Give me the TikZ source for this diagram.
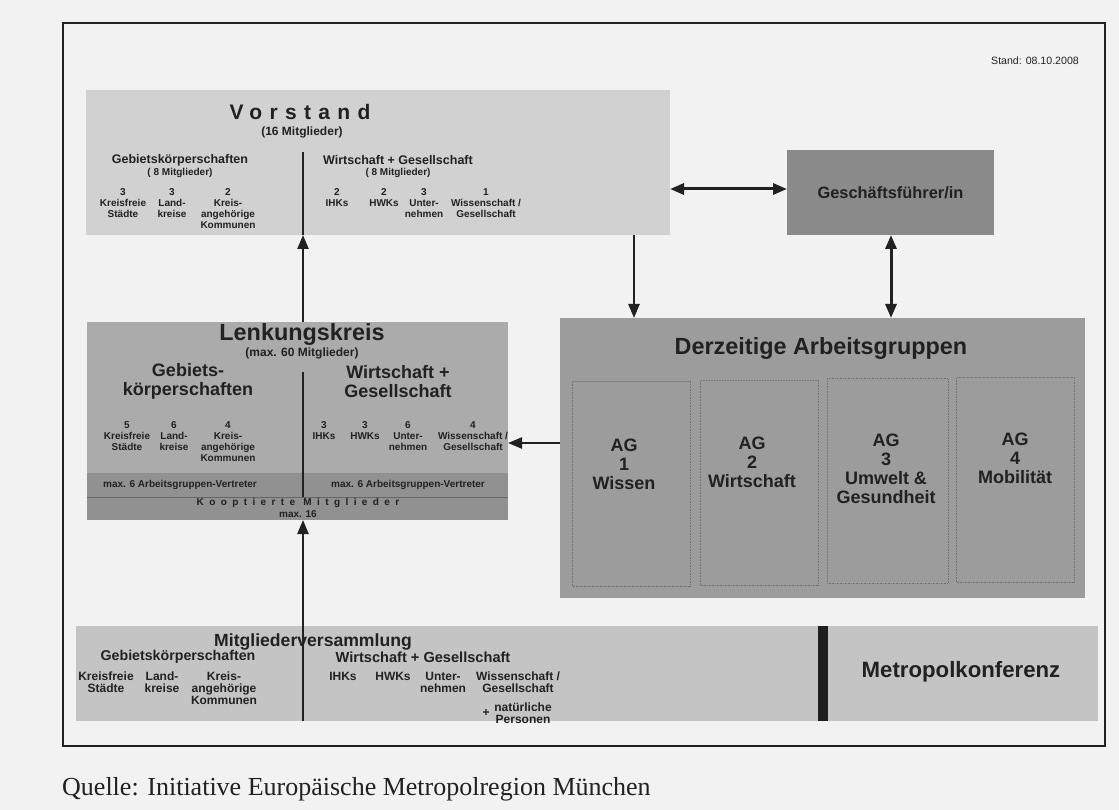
\documentclass[tikz,border=0pt]{standalone}
\usepackage{fontspec}
\setmainfont{Liberation Sans}
\newfontfamily\quellefont{Liberation Serif}
\usepackage{xcolor}
\usetikzlibrary{arrows.meta,fit}
\definecolor{paper}{gray}{0.95}
\definecolor{vorgray}{gray}{0.82}
\definecolor{gfgray}{gray}{0.54}
\definecolor{aggray}{gray}{0.61}
\definecolor{lkgray}{gray}{0.67}
\definecolor{bandgray}{gray}{0.57}
\definecolor{mvgray}{gray}{0.77}
\definecolor{ink}{gray}{0.13}
\newcommand{\fsz}[2]{\fontsize{#1}{#2}\selectfont}

\begin{document}
\begin{tikzpicture}[x=1pt,y=-1pt,
  panel/.style={inner sep=0pt,outer sep=0pt,fill=#1},
  txt/.style={inner sep=0pt,align=center,text=ink},
  lbl/.style={txt,anchor=north,font=\bfseries\fsz{10}{11}},
  mlbl/.style={txt,anchor=north,font=\bfseries\fsz{12}{11.6}},
  agbox/.style={panel=aggray,draw=black!55,densely dotted,line width=0.6pt,minimum width=118pt,minimum height=205pt},
  agtxt/.style={txt,font=\bfseries\fsz{18}{19}},
  arr/.style={-{Triangle[length=14pt,width=11pt]},line width=2.4pt,draw=ink},
  darr/.style={{Triangle[length=14pt,width=11pt]}-{Triangle[length=14pt,width=11pt]},line width=3pt,draw=ink},
  divline/.style={line width=1.2pt,draw=ink}]
\useasboundingbox (0,0) rectangle (1119,810);
\fill[paper] (0,0) rectangle (1119,810);
\draw[line width=1.2pt,ink] (63,23) rectangle (1105,746);
\coordinate (axis) at (303,0);
\node[anchor=east,inner sep=0pt,text=ink,font=\fsz{10.6}{12}] (stand) at (1079,61) {Stand: 08.10.2008};

\node[panel=vorgray,fit={(86,90)(670,235)}] (vor) {};
\node[txt,font=\bfseries\fsz{21}{24}] (vortitle) at (300,112) {\addfontfeature{LetterSpace=35}Vorstand};
\node[txt,font=\bfseries\fsz{12}{14}] (vorzahl) at (302,132) {(16 Mitglieder)};
\node[txt,font=\bfseries\fsz{12.5}{14}] (vorgk) at (180,160) {Gebietskörperschaften};
\node[txt,font=\bfseries\fsz{10}{12}] (vorgkzahl) at (180,173) {( 8 Mitglieder)};
\node[txt,font=\bfseries\fsz{12.5}{14}] (vorwg) at (398,160) {Wirtschaft + Gesellschaft};
\node[txt,font=\bfseries\fsz{10}{12}] (vorwgzahl) at (398,173) {( 8 Mitglieder)};
\node[lbl] (vorks) at (123,188) {3\\Kreisfreie\\Städte};
\node[lbl] (vorlk) at (172,188) {3\\Land-\\kreise};
\node[lbl] (vorka) at (228,188) {2\\Kreis-\\angehörige\\Kommunen};
\node[lbl] (vorihk) at (337,188) {2\\IHKs};
\node[lbl] (vorhwk) at (384,188) {2\\HWKs};
\node[lbl] (vorun) at (424,188) {3\\Unter-\\nehmen};
\node[lbl] (vorwi) at (486,188) {1\\Wissenschaft /\\Gesellschaft};
\draw[divline] (303,152) -- (vor.south -| axis);

\node[panel=gfgray,minimum width=207pt,minimum height=85pt,text=ink,font=\bfseries\fsz{16.4}{18}] (gf) at (890.5,192.5) {Geschäftsführer/in};

\node[panel=aggray,fit={(560,318)(1085,598)}] (ag) {};
\node[txt,font=\bfseries\fsz{23.4}{26}] (agtitle) at (821,349) {Derzeitige Arbeitsgruppen};
\node[agbox] (ag1) at (631.5,484) {};
\node[agbox] (ag2) at (759.5,483) {};
\node[agbox,minimum width=121pt] (ag3) at (887.5,481) {};
\node[agbox] (ag4) at (1015.5,480) {};
\node[agtxt] (ag1t) at (624,464) {AG\\1\\Wissen};
\node[agtxt] (ag2t) at (752,462) {AG\\2\\Wirtschaft};
\node[agtxt] (ag3t) at (886,468.5) {AG\\3\\Umwelt \&\\Gesundheit};
\node[agtxt] (ag4t) at (1015,458) {AG\\4\\Mobilität};

\node[panel=lkgray,fit={(87,322)(508,520)}] (lenk) {};
\fill[bandgray] (lenk.west |- 0,473) rectangle (lenk.south east);
\draw[black!60,line width=0.6pt] (lenk.west |- 0,497) -- (lenk.east |- 0,497);
\node[txt,font=\bfseries\fsz{23.4}{26}] (lktitle) at (302,335) {Lenkungskreis};
\node[txt,font=\bfseries\fsz{12}{14}] (lkzahl) at (302,353) {(max. 60 Mitglieder)};
\node[txt,font=\bfseries\fsz{18}{19}] (lkgk) at (188,381.5) {Gebiets-\\körperschaften};
\node[txt,font=\bfseries\fsz{18}{19}] (lkwg) at (398,381.5) {Wirtschaft +\\Gesellschaft};
\node[lbl] (lkks) at (127,421) {5\\Kreisfreie\\Städte};
\node[lbl] (lklk) at (174,421) {6\\Land-\\kreise};
\node[lbl] (lkka) at (228,421) {4\\Kreis-\\angehörige\\Kommunen};
\node[lbl] (lkihk) at (324,421) {3\\IHKs};
\node[lbl] (lkhwk) at (365,421) {3\\HWKs};
\node[lbl] (lkun) at (408,421) {6\\Unter-\\nehmen};
\node[lbl] (lkwi) at (473,421) {4\\Wissenschaft /\\Gesellschaft};
\node[txt,font=\bfseries\fsz{10}{12}] (lkagl) at (180,485) {max. 6 Arbeitsgruppen-Vertreter};
\node[txt,font=\bfseries\fsz{10}{12}] (lkagr) at (408,485) {max. 6 Arbeitsgruppen-Vertreter};
\node[txt,font=\bfseries\fsz{10}{11}] (lkkoop) at (298,503) {\addfontfeature{LetterSpace=54}Kooptierte Mitglieder};
\node[txt,font=\bfseries\fsz{10}{11}] (lkmax) at (298,514) {max. 16};
\draw[divline] (axis |- 0,372) -- (axis |- 0,497);

\node[panel=mvgray,fit={(76,626)(823,721)}] (mv) {};
\node[panel=mvgray,fit={(823,626)(1098,721)}] (metro) {};
\draw[line width=10pt,draw=black!88] (metro.north west) -- (metro.south west);
\node[txt,font=\bfseries\fsz{22.2}{24}] (metrot) at (961,672) {Metropolkonferenz};
\draw[divline] (mv.north -| axis) -- (mv.south -| axis);
\node[txt,font=\bfseries\fsz{17.6}{20}] (mvtitle) at (313,642) {Mitgliederversammlung};
\node[txt,font=\bfseries\fsz{14.2}{16}] (mvgk) at (178,657) {Gebietskörperschaften};
\node[txt,font=\bfseries\fsz{14.6}{16}] (mvwg) at (423,657) {Wirtschaft + Gesellschaft};
\node[mlbl] (mvks) at (106,672) {Kreisfreie\\Städte};
\node[mlbl] (mvlk) at (162,672) {Land-\\kreise};
\node[mlbl] (mvka) at (224,672) {Kreis-\\angehörige\\Kommunen};
\node[mlbl] (mvihk) at (343,672) {IHKs};
\node[mlbl] (mvhwk) at (393,672) {HWKs};
\node[mlbl] (mvun) at (443,672) {Unter-\\nehmen};
\node[mlbl] (mvwi) at (518,672) {Wissenschaft /\\Gesellschaft};
\node[txt,font=\bfseries\fsz{12}{12}] (mvplus) at (486,713) {+};
\node[txt,font=\bfseries\fsz{12}{11.6}] (mvnp) at (523,713) {natürliche\\Personen};

\draw[arr] (lenk.north -| axis) -- (vor.south -| axis);
\draw[arr] (mv.north -| axis) -- (lenk.south -| axis);
\draw[arr] (ag.west |- 0,443) -- (lenk.east |- 0,443);
\draw[arr] (vor.south -| 634,0) -- (ag.north -| 634,0);
\draw[darr] (vor.east |- 0,189) -- (gf.west |- 0,189);
\draw[darr] (gf.south -| 891,0) -- (ag.north -| 891,0);

\node[anchor=base west,inner sep=0pt,text=ink,font=\quellefont\fsz{26}{28}] (quelle) at (62,795) {Quelle: Initiative Europäische Metropolregion München};
\end{tikzpicture}
\end{document}
